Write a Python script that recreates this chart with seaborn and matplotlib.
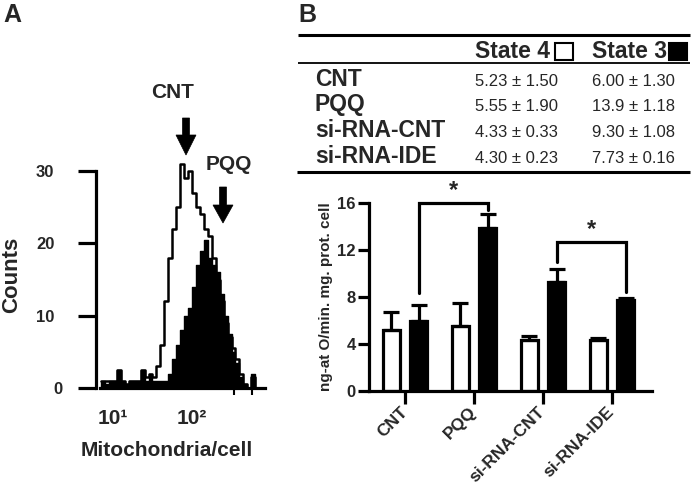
import numpy as np
import pandas as pd
import matplotlib
matplotlib.use("Agg")
import matplotlib.pyplot as plt
import matplotlib.transforms as mtransforms
from matplotlib.lines import Line2D
from matplotlib.patches import Rectangle, Polygon
import seaborn as sns

# ---------------- Panel A data (flow cytometry histogram) ----------------
log_mito_bins = [0.875, 0.925, 0.975, 1.025, 1.075, 1.125, 1.175, 1.225, 1.275, 1.325,
                 1.375, 1.425, 1.475, 1.525, 1.575, 1.625, 1.675, 1.725, 1.775, 1.825,
                 1.875, 1.925, 1.975, 2.025, 2.075, 2.125, 2.175, 2.225, 2.275, 2.325,
                 2.375, 2.425, 2.475, 2.525, 2.575, 2.625, 2.675, 2.725, 2.775, 2.825]
cnt_counts = [1, 1, 1, 1, 2.5, 1, 0.5, 1, 1, 1,
              2.5, 1.5, 2, 1.5, 3, 6, 12, 18, 22, 25,
              31, 29, 30, 27, 25, 24, 22, 21, 18, 15,
              12, 9, 7, 5.5, 4, 2, 0.5, 0, 1.5, 0]
pqq_counts = [1, 0.5, 1, 1, 2.5, 1, 0.5, 1, 1, 1,
              2.5, 1, 2, 1, 1, 1, 1, 2, 4, 6,
              8, 10, 11, 14, 17, 19, 20.5, 18, 17, 16,
              13, 10, 7.5, 5, 3.5, 1.5, 0.5, 0, 2, 0]
count_ticks = [0, 10, 20, 30]
decade_ticks = [1, 2]
decade_labels = ["10\u00b9", "10\u00b2"]

# ---------------- Panel B data ----------------
groups = ["CNT", "PQQ", "si-RNA-CNT", "si-RNA-IDE"]
state4_mean = [5.23, 5.55, 4.33, 4.30]
state4_sem = [1.50, 1.90, 0.33, 0.23]
state3_mean = [6.00, 13.9, 9.30, 7.73]
state3_sem = [1.30, 1.18, 1.08, 0.16]
rate_ticks = [0, 4, 8, 12, 16]
# significance brackets: (group_a, group_b, top, left_bottom, right_bottom)
brackets = [(0, 1, 16.0, 8.3, 15.4), (2, 3, 12.7, 11.0, 8.4)]

# ---------------- figure ----------------
sns.set_theme(style="ticks")
plt.rcParams["font.family"] = ["Liberation Sans", "DejaVu Sans"]
plt.rcParams["font.weight"] = "bold"
plt.rcParams["axes.labelweight"] = "bold"

W, H = 693, 492
fig = plt.figure(figsize=(W / 100, H / 100), dpi=100)
fig.patch.set_facecolor("white")
PX = mtransforms.Affine2D().scale(1 / W, -1 / H).translate(0, 1) + fig.transFigure


def ftext(x, y, s, **kw):
    return fig.text(x, y, s, transform=PX, **kw)


def fline(xs, ys, lw):
    fig.add_artist(Line2D(xs, ys, transform=PX, color="black", lw=lw, solid_capstyle="butt"))


def farrow(x, y0, y1, yt):
    pts = [(x - 3.5, y0), (x + 3.5, y0), (x + 3.5, y1), (x + 10, y1), (x, yt), (x - 10, y1), (x - 3.5, y1)]
    fig.add_artist(Polygon(pts, closed=True, transform=PX, fc="black", ec="black", lw=0.5))


LW = 2.3

# ---- Panel A ----
axA = fig.add_axes([96 / W, 1 - 388 / H, (265 - 96) / W, 260.4 / H])
hist_df = pd.DataFrame({"logx": log_mito_bins, "cnt": cnt_counts, "pqq": pqq_counts})
edges = [c - 0.025 for c in log_mito_bins] + [log_mito_bins[-1] + 0.025]
sns.histplot(data=hist_df, x="logx", weights="pqq", bins=edges, element="step", fill=True,
             color="black", alpha=1, linewidth=1.0, ax=axA)
sns.histplot(data=hist_df, x="logx", weights="cnt", bins=edges, element="step", fill=False,
             color="black", linewidth=1.8, ax=axA)
axA.set_xlim(0.785, 2.924)
axA.set_ylim(0, 36)
axA.set_facecolor("none")
for s in ["top", "right"]:
    axA.spines[s].set_visible(False)
axA.spines["left"].set_bounds(0, 30)
axA.spines["bottom"].set_bounds(0.835, 2.924)
for s in ["left", "bottom"]:
    axA.spines[s].set_linewidth(LW)
    axA.spines[s].set_color("black")
axA.set_yticks(count_ticks)
axA.set_yticklabels([str(t) for t in count_ticks], fontsize=12, fontweight="bold")
axA.tick_params(axis="y", length=13, width=LW, color="black", pad=17)
zero_lab = axA.get_yticklabels()[0]
zero_lab.set_transform(zero_lab.get_transform()
                       + mtransforms.ScaledTranslation(0.08, 0, fig.dpi_scale_trans))
axA.set_xticks(decade_ticks)
axA.set_xticklabels(decade_labels, fontsize=15, fontweight="bold")
axA.set_xticks([2.53, 2.76], minor=True)
axA.tick_params(axis="x", which="major", length=0, pad=15)
axA.tick_params(axis="x", which="minor", length=5, width=1.5, color="black")
axA.set_xlabel("")
axA.set_ylabel("")

ftext(12, 275, "Counts", rotation=90, ha="center", va="center", fontsize=16, fontweight="bold")
ftext(167, 450, "Mitochondria/cell", ha="center", va="center", fontsize=15, fontweight="bold")
ftext(173, 92, "CNT", ha="center", va="center", fontsize=15, fontweight="bold")
ftext(229, 165, "PQQ", ha="center", va="center", fontsize=15, fontweight="bold")
farrow(186, 118, 135, 155)
farrow(223, 187, 205, 223)
ftext(3, 15, "A", ha="left", va="center", fontsize=18, fontweight="bold")
ftext(298, 15, "B", ha="left", va="center", fontsize=18, fontweight="bold")

# ---- Panel B table ----
fline([298, 690], [35, 35], 2.2)
fline([298, 690], [63, 63], 1.3)
fline([297, 690], [172, 172], 2.2)
ftext(475, 58, "State 4", ha="left", va="baseline", fontsize=16.5, fontweight="bold")
ftext(592, 58, "State 3", ha="left", va="baseline", fontsize=16.5, fontweight="bold")
fig.add_artist(Rectangle((555, 43), 18, 17, transform=PX, fc="white", ec="black", lw=1.5))
fig.add_artist(Rectangle((669, 43), 18, 17, transform=PX, fc="black", ec="black", lw=1.5))
row_y = [86, 111, 137, 163]
for g, y, m4, e4, m3, e3 in zip(groups, row_y, state4_mean, state4_sem, state3_mean, state3_sem):
    ftext(315, y, g, ha="left", va="baseline", fontsize=16.5, fontweight="bold")
    ftext(475, y, f"{m4:#.3g} \u00b1 {e4:.2f}", ha="left", va="baseline", fontsize=12, fontweight="normal")
    ftext(592, y, f"{m3:#.3g} \u00b1 {e3:.2f}", ha="left", va="baseline", fontsize=12, fontweight="normal")

# ---- Panel B bar chart ----
axB = fig.add_axes([369 / W, 1 - 391 / H, (652 - 369) / W, 188 / H])
df = pd.DataFrame({
    "group": groups * 2,
    "state": ["State 4"] * 4 + ["State 3"] * 4,
    "rate": state4_mean + state3_mean,
})
sns.barplot(data=df, x="group", y="rate", hue="state", hue_order=["State 4", "State 3"],
            palette={"State 4": "white", "State 3": "black"}, edgecolor="black",
            linewidth=2.3, gap=0.38, errorbar=None, legend=False, ax=axB)
for cont, sem in zip(axB.containers, [state4_sem, state3_sem]):
    xs = [p.get_x() + p.get_width() / 2 for p in cont]
    hs = [p.get_height() for p in cont]
    axB.errorbar(xs, hs, yerr=[np.zeros(len(sem)), sem], fmt="none", ecolor="black",
                 elinewidth=2.3, capsize=5.5, capthick=2.3, zorder=1)
s3_x = [p.get_x() + p.get_width() / 2 for p in axB.containers[1]]
for a, b, top, lb, rb in brackets:
    axB.plot([s3_x[a], s3_x[a], s3_x[b], s3_x[b]], [lb, top, top, rb], color="black",
             lw=LW, clip_on=False, solid_joinstyle="miter")
    axB.text((s3_x[a] + s3_x[b]) / 2, top + 0.1, "*", ha="center", va="bottom",
             fontsize=17, fontweight="bold", clip_on=False)
axB.set_xlim(-0.52, 3.58)
axB.set_ylim(0, 16)
axB.set_facecolor("none")
for s in ["top", "right"]:
    axB.spines[s].set_visible(False)
for s in ["left", "bottom"]:
    axB.spines[s].set_linewidth(LW)
    axB.spines[s].set_color("black")
axB.set_yticks(rate_ticks)
axB.set_yticklabels([str(t) for t in rate_ticks], fontsize=12, fontweight="bold")
axB.tick_params(axis="y", length=8, width=LW, color="black", pad=1.5)
axB.tick_params(axis="x", length=9, width=LW, color="black", pad=4)
axB.set_xticks(range(len(groups)))
axB.set_xticklabels(groups, rotation=45, ha="right", va="center", rotation_mode="anchor",
                    fontsize=12.5, fontweight="bold")
axB.set_xlabel("")
axB.set_ylabel("ng-at O/min. mg. prot. cell", fontsize=11, fontweight="bold", labelpad=3)

fig.savefig("out.png", dpi=100, facecolor="white")
